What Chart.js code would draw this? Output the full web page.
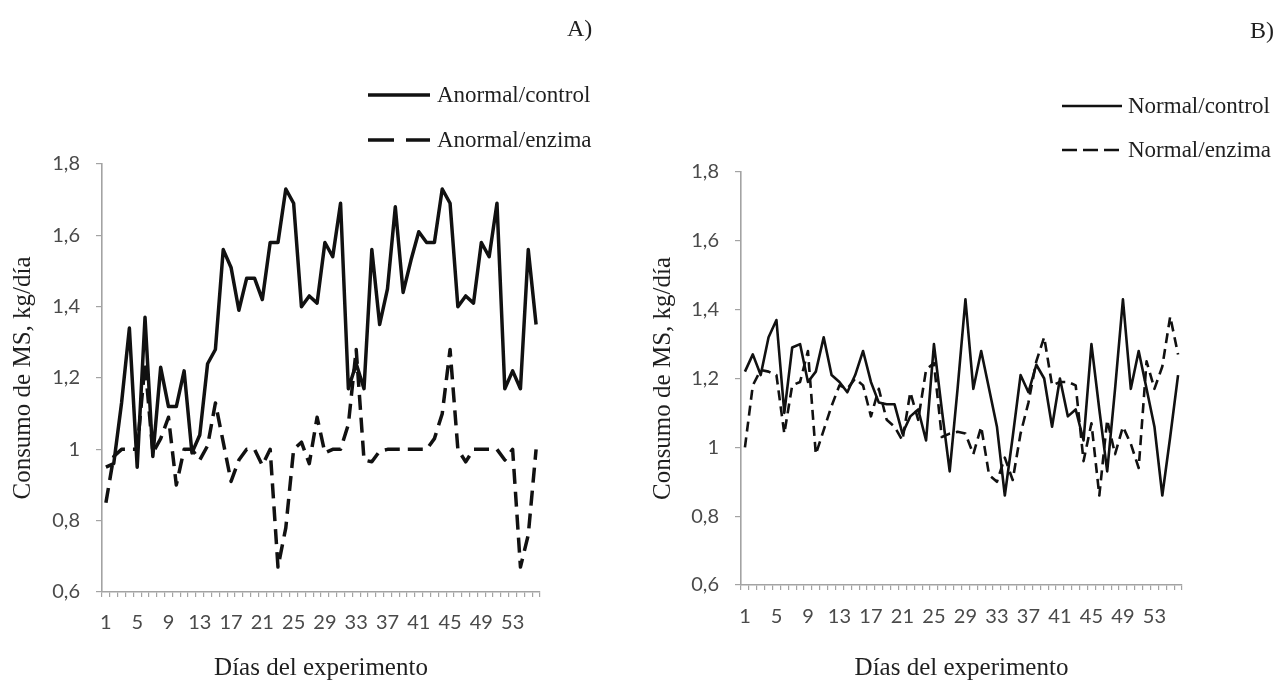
<!DOCTYPE html>
<html lang="es">
<head>
<meta charset="utf-8">
<title>Consumo de MS</title>
<script src="https://cdn.jsdelivr.net/npm/chart.js@4.4.1/dist/chart.umd.min.js"></script>
<style>
  body { margin: 0; background: #fff; width: 1279px; height: 683px; overflow: hidden; position: relative; font-family: "Liberation Serif", "Times New Roman", serif; color: #1f1f1f; }
  canvas { position: absolute; top: 0; }
  #chartA { left: 0; }
  #chartB { left: 640px; }
  .tag { position: absolute; font-size: 24px; line-height: 24px; }
  .legend-row { position: absolute; height: 30px; display: flex; align-items: center; white-space: nowrap; font-size: 23px; line-height: 30px; }
  .legend-row svg { display: block; }
</style>
</head>
<body>
<canvas id="chartA" width="640" height="683"></canvas>
<canvas id="chartB" width="639" height="683"></canvas>

<div class="tag" style="left:567px; top:16px;">A)</div>
<div class="tag" style="left:1250px; top:18px;">B)</div>

<div class="legend-row" style="left:368px; top:80px;">
  <svg width="62" height="10"><line x1="0" y1="5" x2="62" y2="5" stroke="#111" stroke-width="3.5"/></svg>
  <span style="margin-left:7px;">Anormal/control</span>
</div>
<div class="legend-row" style="left:368px; top:125px;">
  <svg width="62" height="10"><line x1="0" y1="5" x2="62" y2="5" stroke="#111" stroke-width="3.5" stroke-dasharray="26 12"/></svg>
  <span style="margin-left:7px;">Anormal/enzima</span>
</div>
<div class="legend-row" style="left:1062px; top:91px;">
  <svg width="60" height="10"><line x1="0" y1="5" x2="60" y2="5" stroke="#111" stroke-width="2.6"/></svg>
  <span style="margin-left:6px;">Normal/control</span>
</div>
<div class="legend-row" style="left:1062px; top:135px;">
  <svg width="60" height="10"><line x1="0" y1="5" x2="60" y2="5" stroke="#111" stroke-width="2.6" stroke-dasharray="15 6"/></svg>
  <span style="margin-left:6px;">Normal/enzima</span>
</div>

<script>
const days = [1, 2, 3, 4, 5, 6, 7, 8, 9, 10, 11, 12, 13, 14, 15, 16, 17, 18, 19, 20,
  21, 22, 23, 24, 25, 26, 27, 28, 29, 30, 31, 32, 33, 34, 35, 36, 37, 38, 39, 40,
  41, 42, 43, 44, 45, 46, 47, 48, 49, 50, 51, 52, 53, 54, 55, 56];
const xLabelEvery = 4;

const yTickValues = [0.6, 0.8, 1, 1.2, 1.4, 1.6, 1.8];
const yTickLabels = ['0,6', '0,8', '1', '1,2', '1,4', '1,6', '1,8'];

// A) Anormal
const anormalControl = [0.95, 0.96, 1.13, 1.34, 0.95, 1.37, 0.98, 1.23, 1.12, 1.12,
  1.22, 0.99, 1.04, 1.24, 1.28, 1.56, 1.51, 1.39, 1.48, 1.48,
  1.42, 1.58, 1.58, 1.73, 1.69, 1.40, 1.43, 1.41, 1.58, 1.54,
  1.69, 1.17, 1.24, 1.17, 1.56, 1.35, 1.45, 1.68, 1.44, 1.53,
  1.61, 1.58, 1.58, 1.73, 1.69, 1.40, 1.43, 1.41, 1.58, 1.54,
  1.69, 1.17, 1.22, 1.17, 1.56, 1.35];
const anormalEnzima = [0.85, 0.98, 1.0, 1.0, 1.0, 1.24, 0.99, 1.03, 1.09, 0.90,
  1.0, 1.0, 0.97, 1.01, 1.13, 1.02, 0.91, 0.97, 1.0, 1.0,
  0.955, 1.0, 0.67, 0.78, 1.0, 1.02, 0.96, 1.09, 0.99, 1.0,
  1.0, 1.07, 1.28, 0.97, 0.965, 0.995, 1.0, 1.0, 1.0, 1.0,
  1.0, 1.0, 1.03, 1.10, 1.28, 1.0, 0.965, 1.0, 1.0, 1.0,
  1.0, 0.97, 1.0, 0.67, 0.76, 1.0];

// B) Normal
const normalControl = [1.22, 1.27, 1.21, 1.32, 1.37, 1.10, 1.29, 1.30, 1.19, 1.22,
  1.32, 1.21, 1.19, 1.16, 1.21, 1.28, 1.19, 1.13, 1.125, 1.125,
  1.04, 1.09, 1.11, 1.02, 1.30, 1.11, 0.93, 1.17, 1.43, 1.17,
  1.28, 1.17, 1.06, 0.86, 1.03, 1.21, 1.16, 1.24, 1.20, 1.06,
  1.20, 1.09, 1.11, 1.02, 1.30, 1.11, 0.93, 1.17, 1.43, 1.17,
  1.28, 1.17, 1.06, 0.86, 1.03, 1.21];
const normalEnzima = [1.0, 1.18, 1.225, 1.22, 1.21, 1.04, 1.18, 1.19, 1.28, 0.98,
  1.05, 1.12, 1.18, 1.17, 1.20, 1.18, 1.09, 1.17, 1.08, 1.06,
  1.02, 1.16, 1.08, 1.225, 1.245, 1.03, 1.04, 1.045, 1.04, 0.98,
  1.06, 0.92, 0.90, 0.97, 0.905, 1.04, 1.13, 1.25, 1.32, 1.18,
  1.19, 1.19, 1.18, 0.96, 1.07, 0.86, 1.08, 0.98, 1.06, 1.01,
  0.94, 1.25, 1.17, 1.235, 1.38, 1.27];

const lineColor = '#111111';
const axisColor = '#a3a3a3';
const tickColor = '#4a4a4a';
const titleColor = '#1f1f1f';
const tickFont = { family: 'Lato', size: 20 };
const titleFont = { family: '"Liberation Serif", "Times New Roman", serif', size: 25 };

function buildPanel(canvasId, cfg) {
  const canvas = document.getElementById(canvasId);

  return new Chart(canvas, {
    type: 'line',
    data: {
      labels: days,
      datasets: [{
        label: cfg.names[0],
        data: cfg.solid,
        borderColor: lineColor,
        borderWidth: cfg.lineWidth,
        borderJoinStyle: 'round',
        pointRadius: 0,
        tension: 0,
        fill: false,
      }, {
        label: cfg.names[1],
        data: cfg.dashed,
        borderColor: lineColor,
        borderWidth: cfg.lineWidth,
        borderDash: cfg.dash,
        borderJoinStyle: 'round',
        pointRadius: 0,
        tension: 0,
        fill: false,
      }],
    },
    options: {
      responsive: false,
      animation: false,
      devicePixelRatio: 1,
      layout: { padding: cfg.padding },
      plugins: {
        legend: { display: false },
        tooltip: { enabled: false },
      },
      scales: {
        x: {
          type: 'category',
          offset: true,
          grid: { offset: true, drawOnChartArea: false, drawTicks: true, tickLength: 5, color: axisColor, lineWidth: 1.2 },
          border: { color: axisColor, width: 1.6 },
          ticks: {
            autoSkip: false,
            maxRotation: 0,
            minRotation: 0,
            padding: cfg.xTickPadding,
            font: tickFont,
            color: tickColor,
            callback: (value, index) => (index % xLabelEvery === 0 ? String(days[index]) : ''),
          },
          title: { display: true, text: 'Días del experimento', font: titleFont, color: titleColor, padding: { top: 0, bottom: cfg.xTitleBottom } },
          afterFit: (scale) => { scale.height = cfg.xHeight; },
        },
        y: {
          min: 0.6,
          max: 1.8,
          afterBuildTicks: (scale) => { scale.ticks = yTickValues.map((v) => ({ value: v })); },
          grid: { drawOnChartArea: false, drawTicks: true, tickLength: 6, color: axisColor, lineWidth: 1.2 },
          border: { color: axisColor, width: 1.6 },
          ticks: {
            padding: 16,
            font: tickFont,
            color: tickColor,
            callback: (value, index) => yTickLabels[index],
          },
          title: { display: true, text: 'Consumo de MS, kg/día', font: titleFont, color: titleColor, padding: { top: 8, bottom: 0 } },
          afterFit: (scale) => { scale.width = cfg.yWidth; },
        },
      },
    },
  });
}

buildPanel('chartA', {
  names: ['Anormal/control', 'Anormal/enzima'],
  solid: anormalControl,
  dashed: anormalEnzima,
  lineWidth: 3.5,
  dash: [15, 8],
  padding: { left: 0, top: 164, right: 100, bottom: 0 },
  yWidth: 102,
  xHeight: 91,
  xTickPadding: 14,
  xTitleBottom: 0,
});

buildPanel('chartB', {
  names: ['Normal/control', 'Normal/enzima'],
  solid: normalControl,
  dashed: normalEnzima,
  lineWidth: 2.6,
  dash: [10, 6],
  padding: { left: 0, top: 172, right: 97, bottom: 0 },
  yWidth: 101,
  xHeight: 98,
  xTickPadding: 15,
  xTitleBottom: 0,
});
</script>
</body>
</html>
